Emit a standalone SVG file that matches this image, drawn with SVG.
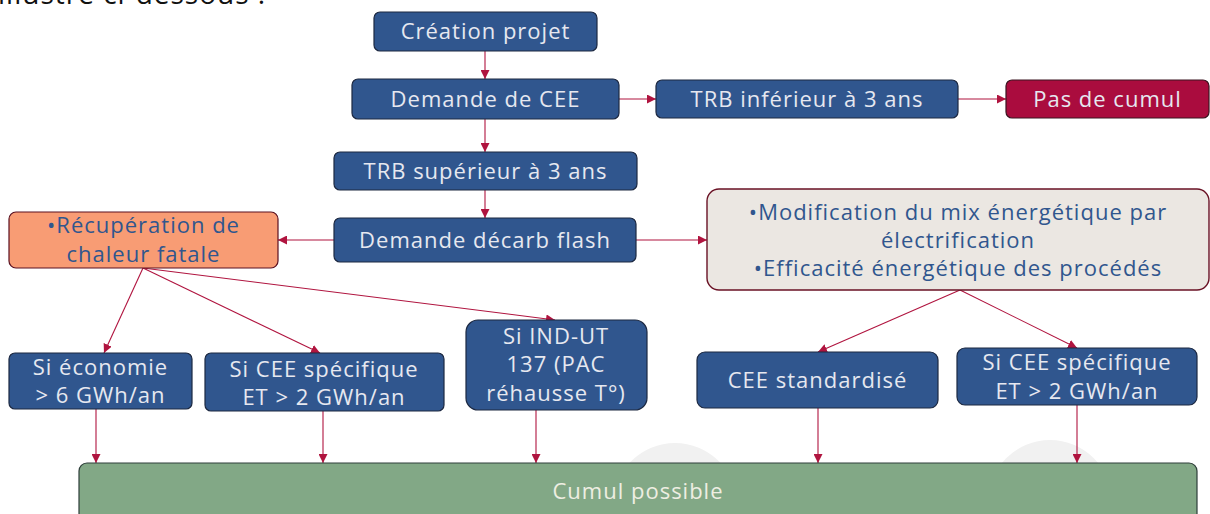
<svg xmlns="http://www.w3.org/2000/svg" width="1210" height="514" viewBox="0 0 1210 514">
  <style>
    .blue { fill: #30568E; stroke: #1C2841; stroke-width: 1.2; }
    .red { fill: #AA0C3E; stroke: #3A1420; stroke-width: 1.2; }
    .orange { fill: #F89C74; stroke: #5A1020; stroke-width: 1.2; }
    .beige { fill: #EBE7E2; stroke: #6A1225; stroke-width: 1.4; }
    .green { fill: #82A886; stroke: #2E3E3A; stroke-width: 1.2; }
    text { font-family: "Open Sans", "Noto Sans", sans-serif; font-size: 22px; letter-spacing: 1px; text-anchor: middle; }
    .lt { fill: #E6E8F0; }
    .dk { fill: #30568E; }
    .gt { fill: #EEEEE2; }
    .edge { stroke: #B0143F; stroke-width: 1.1; fill: none; marker-end: url(#arr); }
  </style>
  <defs>
    <marker id="arr" viewBox="0 0 10 10" refX="10" refY="5" markerWidth="9" markerHeight="9" markerUnits="userSpaceOnUse" orient="auto">
      <path d="M0,0 L10,5 L0,10 z" fill="#B0143F"/>
    </marker>
  </defs>

  <!-- page background -->
  <rect x="0" y="0" width="1210" height="514" fill="#FFFFFF"/>
  <text x="-2" y="4" style="text-anchor:start;font-size:28px;letter-spacing:1px;fill:#111;">illustré ci-dessous :</text>

  <!-- faint watermark discs -->
  <circle cx="675" cy="505" r="62" fill="#F1F1F1"/>
  <circle cx="1050" cy="502" r="62" fill="#F1F1F1"/>

  <g id="connectors">
    <line class="edge" x1="485" y1="51" x2="485" y2="79"/>
    <line class="edge" x1="619" y1="99" x2="656" y2="99"/>
    <line class="edge" x1="958" y1="99" x2="1006" y2="99"/>
    <line class="edge" x1="485" y1="119" x2="485" y2="152"/>
    <line class="edge" x1="485" y1="190" x2="485" y2="218"/>
    <line class="edge" x1="334" y1="240" x2="278" y2="240"/>
    <line class="edge" x1="636" y1="240" x2="707" y2="240"/>
    <line class="edge" x1="143" y1="268" x2="104" y2="353"/>
    <line class="edge" x1="143" y1="268" x2="320" y2="353"/>
    <line class="edge" x1="143" y1="268" x2="555" y2="320"/>
    <line class="edge" x1="960" y1="290" x2="818" y2="352"/>
    <line class="edge" x1="960" y1="290" x2="1077" y2="348"/>
    <line class="edge" x1="96" y1="409" x2="96" y2="463"/>
    <line class="edge" x1="323" y1="411" x2="323" y2="463"/>
    <line class="edge" x1="536" y1="410" x2="536" y2="463"/>
    <line class="edge" x1="818" y1="408" x2="818" y2="463"/>
    <line class="edge" x1="1077" y1="405" x2="1077" y2="463"/>
  </g>

  <g id="creation-projet">
    <rect class="blue" x="374" y="12" width="223" height="39" rx="6"/>
    <text class="lt" x="485.5" y="39">Création projet</text>
  </g>
  <g id="demande-cee">
    <rect class="blue" x="352" y="79" width="267" height="40" rx="6"/>
    <text class="lt" x="485.5" y="107">Demande de CEE</text>
  </g>
  <g id="trb-inferieur">
    <rect class="blue" x="656" y="80" width="302" height="38" rx="6"/>
    <text class="lt" x="807" y="107">TRB inférieur à 3 ans</text>
  </g>
  <g id="pas-de-cumul">
    <rect class="red" x="1006" y="80" width="203" height="38" rx="6"/>
    <text class="lt" x="1107.5" y="107">Pas de cumul</text>
  </g>
  <g id="trb-superieur">
    <rect class="blue" x="334" y="152" width="303" height="38" rx="6"/>
    <text class="lt" x="485.5" y="179">TRB supérieur à 3 ans</text>
  </g>
  <g id="demande-decarb">
    <rect class="blue" x="334" y="218" width="302" height="44" rx="6"/>
    <text class="lt" x="485" y="248">Demande décarb flash</text>
  </g>
  <g id="recuperation">
    <rect class="orange" x="9" y="212" width="269" height="56" rx="7"/>
    <text class="dk" x="143.5" y="233">•Récupération de</text>
    <text class="dk" x="143.5" y="262">chaleur fatale</text>
  </g>
  <g id="modification">
    <rect class="beige" x="707" y="189" width="502" height="101" rx="12"/>
    <text class="dk" x="958" y="220">•Modification du mix énergétique par</text>
    <text class="dk" x="958" y="248">électrification</text>
    <text class="dk" x="958" y="276">•Efficacité énergétique des procédés</text>
  </g>
  <g id="si-economie">
    <rect class="blue" x="9" y="353" width="183" height="56" rx="6"/>
    <text class="lt" x="100.5" y="375">Si économie</text>
    <text class="lt" x="100.5" y="403">&gt; 6 GWh/an</text>
  </g>
  <g id="si-cee-specifique-1">
    <rect class="blue" x="205" y="353" width="239" height="58" rx="6"/>
    <text class="lt" x="324" y="377">Si CEE spécifique</text>
    <text class="lt" x="324" y="405">ET &gt; 2 GWh/an</text>
  </g>
  <g id="si-ind-ut">
    <rect class="blue" x="466" y="320" width="181" height="90" rx="12"/>
    <text class="lt" x="556" y="344">Si IND-UT</text>
    <text class="lt" x="556" y="372">137 (PAC</text>
    <text class="lt" x="556" y="401">réhausse T°)</text>
  </g>
  <g id="cee-standardise">
    <rect class="blue" x="697" y="352" width="241" height="56" rx="8"/>
    <text class="lt" x="817.5" y="388">CEE standardisé</text>
  </g>
  <g id="si-cee-specifique-2">
    <rect class="blue" x="957" y="348" width="240" height="57" rx="8"/>
    <text class="lt" x="1077" y="370">Si CEE spécifique</text>
    <text class="lt" x="1077" y="399">ET &gt; 2 GWh/an</text>
  </g>
  <g id="cumul-possible">
    <rect class="green" x="79" y="463" width="1118" height="70" rx="8"/>
    <text class="gt" x="638" y="499">Cumul possible</text>
  </g>
</svg>
